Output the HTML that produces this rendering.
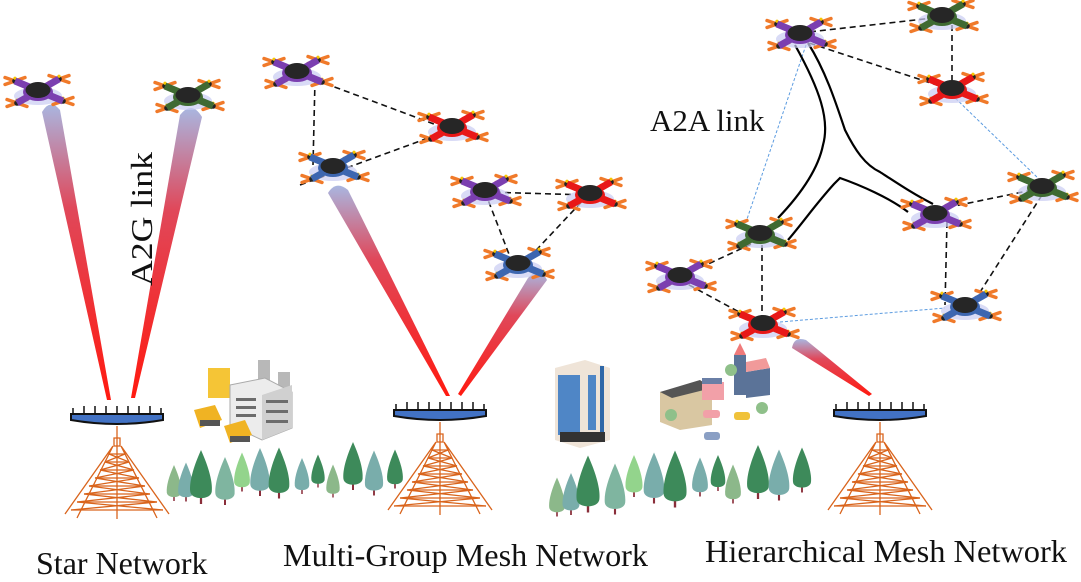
<!DOCTYPE html>
<html><head><meta charset="utf-8"><style>
html,body{margin:0;padding:0;background:#fff;}
svg{display:block;}
text{font-family:"Liberation Serif",serif;fill:#111;}
</style></head><body>
<svg width="1081" height="582" viewBox="0 0 1081 582" xmlns="http://www.w3.org/2000/svg">
<defs>
  <linearGradient id="beam" x1="0" y1="0" x2="0" y2="1">
    <stop offset="0" stop-color="#a9b6e0"/><stop offset="0.35" stop-color="#e0485a"/><stop offset="1" stop-color="#ff1a10"/>
  </linearGradient>
  <g id="prop">
    <line x1="-10" y1="-3.5" x2="10" y2="3.5" stroke="#f07a2a" stroke-width="3.4" stroke-linecap="round"/>
    <line x1="-10" y1="3.5" x2="10" y2="-3.5" stroke="#f07a2a" stroke-width="3.4" stroke-linecap="round"/>
    <circle r="2.8" fill="#222"/><circle cy="-2.8" r="1.6" fill="#f7c600"/>
  </g>
  <g id="droneBase">
    <ellipse cx="0" cy="4" rx="24" ry="9" fill="#c9ccf2" opacity="0.7"/>
    <use href="#prop" x="-23" y="-11"/><use href="#prop" x="21" y="-13"/>
    <use href="#prop" x="-21" y="11"/><use href="#prop" x="25" y="9"/>
  </g>
  <g id="dP"><use href="#droneBase"/><path d="M-23,-11 L25,9 M21,-13 L-21,11" stroke="#7b3fb0" stroke-width="7"/><ellipse cx="0" cy="0" rx="15" ry="9" fill="#7b3fb0"/><ellipse cx="0" cy="-2" rx="12.5" ry="8" fill="#262626"/></g>
  <g id="dG"><use href="#droneBase"/><path d="M-23,-11 L25,9 M21,-13 L-21,11" stroke="#3f6a32" stroke-width="7"/><ellipse cx="0" cy="0" rx="15" ry="9" fill="#3f6a32"/><ellipse cx="0" cy="-2" rx="12.5" ry="8" fill="#262626"/></g>
  <g id="dR"><use href="#droneBase"/><path d="M-23,-11 L25,9 M21,-13 L-21,11" stroke="#e81818" stroke-width="7"/><ellipse cx="0" cy="0" rx="15" ry="9" fill="#e81818"/><ellipse cx="0" cy="-2" rx="12.5" ry="8" fill="#262626"/></g>
  <g id="dB"><use href="#droneBase"/><path d="M-23,-11 L25,9 M21,-13 L-21,11" stroke="#3d66b0" stroke-width="7"/><ellipse cx="0" cy="0" rx="15" ry="9" fill="#3d66b0"/><ellipse cx="0" cy="-2" rx="12.5" ry="8" fill="#262626"/></g>
  <g id="tower" fill="none" stroke="#d9641c" stroke-width="1.3">
    <path d="M-46,-8 L46,-8 L46,-2 Q0,6 -46,-2 Z" fill="#4272c4" stroke="#111" stroke-width="2"/>
    <path d="M-44,-8 v-6 M-33,-8 v-8 M-22,-8 v-8 M-11,-8 v-8 M0,-8 v-8 M11,-8 v-8 M22,-8 v-8 M33,-8 v-8 M44,-8 v-6" stroke="#111" stroke-width="1.5"/>
    <line x1="0" y1="4" x2="0" y2="97"/>
    <path d="M-3,16 L-3,24 L3,24 L3,16 Z"/>
    <path d="M-4,24 L-52,92 M4,24 L52,92 M-4,24 L-40,96 M4,24 L40,96"/>
    <path d="M-8,32 L8,32 M-12,40 L12,40 M-17,48 L17,48 M-22,56 L22,56 M-28,64 L28,64 M-33,72 L33,72 M-40,80 L40,80 M-46,88 L46,88"/>
    <path d="M-8,32 L12,40 M8,32 L-12,40 M-12,40 L17,48 M12,40 L-17,48 M-17,48 L22,56 M17,48 L-22,56 M-22,56 L28,64 M22,56 L-28,64 M-28,64 L33,72 M28,64 L-33,72 M-33,72 L40,80 M33,72 L-40,80 M-40,80 L46,88 M40,80 L-46,88"/>
  </g>
  <g id="tree"><line x1="0" y1="-10" x2="0" y2="10" stroke="#8a2e3a" stroke-width="2.5"/><path d="M0,-50 C9,-30 13,-14 12,-4 C11,6 -11,6 -12,-4 C-13,-14 -9,-30 0,-50Z"/></g>
</defs>

<!-- beams -->
<path d="M42,112 Q50,98 60,110 L111,400 L107,400 Z" fill="url(#beam)"/>
<path d="M180,115 Q192,100 202,117 L135,398 L131,398 Z" fill="url(#beam)"/>
<path d="M328,193 Q336,180 348,190 L450,396 L446,396 Z" fill="url(#beam)"/>
<path d="M528,278 Q540,265 547,280 L461,396 L458,394 Z" fill="url(#beam)"/>
<path d="M792,348 Q794,336 806,340 L872,394 L869,396 Z" fill="url(#beam)"/>

<!-- dashed links -->
<g stroke="#111" stroke-width="1.6" stroke-dasharray="6,4" fill="none">
  <line x1="297" y1="73" x2="450" y2="130"/><line x1="315" y1="80" x2="313" y2="165"/><line x1="300" y1="185" x2="450" y2="130"/>
  <line x1="485" y1="192" x2="588" y2="195"/><line x1="485" y1="192" x2="512" y2="262"/><line x1="588" y1="195" x2="525" y2="262"/>
  <line x1="800" y1="33" x2="942" y2="17"/><line x1="952" y1="25" x2="952" y2="86"/><line x1="800" y1="40" x2="952" y2="90"/>
  <line x1="1042" y1="188" x2="935" y2="210"/><line x1="947" y1="222" x2="945" y2="305"/><line x1="1042" y1="195" x2="975" y2="300"/>
  <line x1="760" y1="240" x2="680" y2="277"/><line x1="680" y1="280" x2="763" y2="325"/><line x1="762" y1="245" x2="762" y2="318"/>
</g>
<g stroke="#5b9be0" stroke-width="1" stroke-dasharray="3,2" fill="none">
  <line x1="806" y1="45" x2="745" y2="225"/><line x1="952" y1="95" x2="1040" y2="180"/><line x1="780" y1="322" x2="945" y2="308"/>
</g>
<g stroke="#000" stroke-width="2.2" fill="none">
  <path d="M795,45 C820,90 830,120 823,145 C818,170 800,195 778,218"/>
  <path d="M808,43 C825,70 835,100 845,130 C855,150 865,165 880,172 C900,185 915,195 933,204"/>
  <path d="M788,240 C805,220 815,205 834,184 L840,178 C860,185 890,198 908,212"/>
</g>

<!-- drones -->
<use href="#dP" x="38" y="92"/><use href="#dG" x="188" y="97"/>
<use href="#dP" x="297" y="73"/><use href="#dR" x="452" y="128"/><use href="#dB" x="333" y="168"/>
<use href="#dP" x="485" y="192"/><use href="#dR" x="590" y="195"/><use href="#dB" x="518" y="265"/>
<use href="#dP" x="800" y="35"/><use href="#dG" x="942" y="17"/><use href="#dR" x="952" y="90"/>
<use href="#dG" x="1042" y="188"/><use href="#dP" x="935" y="215"/><use href="#dG" x="760" y="235"/>
<use href="#dP" x="680" y="277"/><use href="#dR" x="763" y="325"/><use href="#dB" x="965" y="307"/>

<!-- towers -->
<use href="#tower" x="117" y="422"/><use href="#tower" x="440" y="418"/><use href="#tower" x="880" y="418"/>

<!-- factory -->
<g>
  <rect x="258" y="360" width="12" height="40" fill="#b8b8b8"/><rect x="278" y="372" width="12" height="40" fill="#b8b8b8"/>
  <rect x="208" y="368" width="22" height="30" fill="#f5c536"/>
  <path d="M230,385 L265,378 L292,392 L292,428 L262,440 L230,425 Z" fill="#ececec" stroke="#aaa"/>
  <path d="M262,395 L292,385 L292,428 L262,440Z" fill="#d0d0d0"/>
  <g fill="#6c6c6c"><rect x="236" y="398" width="20" height="3"/><rect x="236" y="406" width="20" height="3"/><rect x="236" y="414" width="20" height="3"/><rect x="266" y="400" width="22" height="3"/><rect x="266" y="410" width="22" height="3"/><rect x="266" y="420" width="22" height="3"/></g>
  <path d="M194,410 L215,405 L222,420 L200,428 Z" fill="#f0b323"/><rect x="200" y="420" width="20" height="6" fill="#555"/>
  <path d="M224,426 L245,420 L252,435 L230,443 Z" fill="#f0b323"/><rect x="230" y="436" width="20" height="6" fill="#555"/>
</g>
<!-- office building -->
<g>
  <path d="M555,368 L585,360 L610,368 L610,440 L580,448 L555,440Z" fill="#efe4d8"/>
  <rect x="558" y="375" width="22" height="60" fill="#4f86c6"/>
  <rect x="588" y="375" width="8" height="55" fill="#4f86c6"/>
  <rect x="600" y="366" width="4" height="75" fill="#2f67a8"/>
  <rect x="560" y="432" width="45" height="10" fill="#333"/>
</g>
<!-- town -->
<g>
  <path d="M660,392 L700,385 L712,390 L712,425 L680,430 L660,422Z" fill="#d9c7a2"/>
  <path d="M660,392 L700,380 L712,388 L672,398Z" fill="#555"/>
  <rect x="702" y="382" width="22" height="18" fill="#f2a0a8"/><rect x="702" y="378" width="20" height="6" fill="#6a7fa6"/>
  <rect x="734" y="355" width="12" height="40" fill="#5b7398"/><path d="M734,355 L740,343 L746,355Z" fill="#f07a7a"/>
  <path d="M746,372 L770,368 L770,395 L746,398Z" fill="#5b7398"/><path d="M746,362 L766,358 L770,368 L746,372Z" fill="#f19a9a"/>
  <circle cx="731" cy="370" r="6" fill="#8fc08a"/><circle cx="762" cy="408" r="6" fill="#8fc08a"/><circle cx="671" cy="415" r="6" fill="#8fc08a"/>
  <rect x="703" y="410" width="17" height="8" rx="3" fill="#f2a0a8"/>
  <rect x="734" y="412" width="16" height="8" rx="3" fill="#f0c23a"/>
  <rect x="704" y="432" width="16" height="8" rx="3" fill="#8a9fc4"/>
</g>

<!-- trees -->
<g>
  <use href="#tree" fill="#8cb88a" transform="translate(174,495) scale(0.6)"/>
  <use href="#tree" fill="#79adab" transform="translate(186,495) scale(0.65)"/>
  <use href="#tree" fill="#3d8a5a" transform="translate(201,495) scale(0.9)"/>
  <use href="#tree" fill="#7fb5a0" transform="translate(225,497) scale(0.8)"/>
  <use href="#tree" fill="#93d48c" transform="translate(242,485) scale(0.65)"/>
  <use href="#tree" fill="#79adab" transform="translate(260,488) scale(0.8)"/>
  <use href="#tree" fill="#3d8a5a" transform="translate(279,490) scale(0.85)"/>
  <use href="#tree" fill="#79adab" transform="translate(302,488) scale(0.6)"/>
  <use href="#tree" fill="#3d8a5a" transform="translate(318,482) scale(0.55)"/>
  <use href="#tree" fill="#8cb88a" transform="translate(333,492) scale(0.55)"/>
  <use href="#tree" fill="#3d8a5a" transform="translate(353,482) scale(0.8)"/>
  <use href="#tree" fill="#79adab" transform="translate(374,488) scale(0.75)"/>
  <use href="#tree" fill="#3d8a5a" transform="translate(395,482) scale(0.65)"/>

  <use href="#tree" fill="#8cb88a" transform="translate(557,510) scale(0.65)"/>
  <use href="#tree" fill="#79adab" transform="translate(571,508) scale(0.7)"/>
  <use href="#tree" fill="#3d8a5a" transform="translate(588,503) scale(0.95)"/>
  <use href="#tree" fill="#7fb5a0" transform="translate(615,506) scale(0.85)"/>
  <use href="#tree" fill="#93d48c" transform="translate(634,490) scale(0.7)"/>
  <use href="#tree" fill="#79adab" transform="translate(654,495) scale(0.85)"/>
  <use href="#tree" fill="#3d8a5a" transform="translate(675,498) scale(0.95)"/>
  <use href="#tree" fill="#79adab" transform="translate(700,490) scale(0.65)"/>
  <use href="#tree" fill="#3d8a5a" transform="translate(718,485) scale(0.6)"/>
  <use href="#tree" fill="#8cb88a" transform="translate(733,497) scale(0.65)"/>
  <use href="#tree" fill="#3d8a5a" transform="translate(758,490) scale(0.9)"/>
  <use href="#tree" fill="#79adab" transform="translate(779,492) scale(0.85)"/>
  <use href="#tree" fill="#3d8a5a" transform="translate(802,485) scale(0.75)"/>
</g>

<!-- labels -->
<text x="36" y="574" font-size="32">Star Network</text>
<text x="283" y="566" font-size="32" textLength="365" lengthAdjust="spacingAndGlyphs">Multi-Group Mesh Network</text>
<text x="705" y="562" font-size="32" textLength="362" lengthAdjust="spacingAndGlyphs">Hierarchical Mesh Network</text>
<text x="650" y="131" font-size="31">A2A link</text>
<text transform="translate(152,286) rotate(-90)" font-size="31" textLength="134" lengthAdjust="spacingAndGlyphs">A2G  link</text>
</svg>
</body></html>
